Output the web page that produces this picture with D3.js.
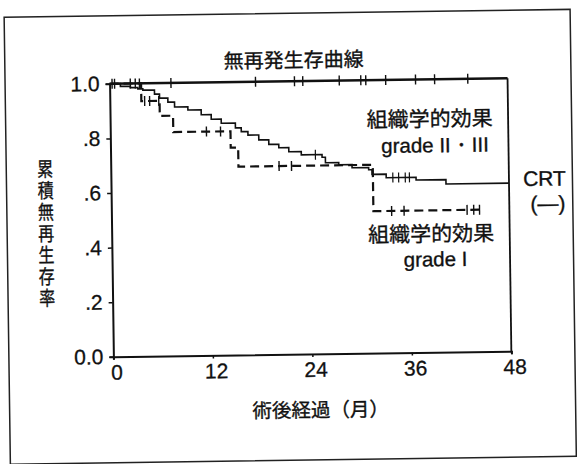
<!DOCTYPE html>
<html>
<head>
<meta charset="utf-8">
<script src="https://cdn.jsdelivr.net/npm/d3@7"></script>
<style>
  html, body { margin: 0; padding: 0; background: #fff; }
  svg { display: block; }
  text { fill: #111; }
</style>
</head>
<body>
<svg id="chart" width="577" height="464"></svg>
<script>
// Axis ticks
const xTicks = [0, 12, 24, 36, 48];
const yTicks = [0, 0.2, 0.4, 0.6, 0.8, 1.0];
const yTickLabels = ["0.0", ".2", ".4", ".6", ".8", "1.0"];

// 組織学的効果 grade II・III: no events, censored cases only
const g23End = 48;
const g23Censor = [0.3, 0.6, 2.5, 3.1, 3.6, 7.4, 17.6, 22.3, 23.3, 27.7, 30.3, 30.9, 33.3, 36.9, 39.2, 43.2];

// CRT (—): event times (months) and survival after each event
const crtTimes = [0, 1.3, 2.5, 3.4, 4.0, 5.4, 6.0, 7.0, 7.8, 9.4, 11.0, 12.2, 13.4, 15.1, 15.8, 16.6, 17.9, 19.1, 20.3, 21.5, 23.0, 25.5, 25.9, 27.5, 29.1, 31.1, 31.5, 33.2, 36.8, 40.4];
const crtSurv  = [1, 0.99, 0.985, 0.98, 0.975, 0.96, 0.945, 0.93, 0.912, 0.9, 0.882, 0.865, 0.85, 0.832, 0.818, 0.805, 0.787, 0.77, 0.757, 0.742, 0.73, 0.72, 0.70, 0.692, 0.68, 0.672, 0.655, 0.642, 0.632, 0.616];
const crtEnd = 48;
const crtCensor = [24.7, 34.0, 34.7, 35.5, 36.0];

// 組織学的効果 grade I
const g1Times = [0, 3.8, 6.0, 7.6, 14.5, 15.4, 31.6];
const g1Surv  = [1, 0.935, 0.88, 0.82, 0.76, 0.69, 0.52];
const g1End = 44.4;
const g1Censor = [4.2, 4.8, 5.9, 11.6, 13.3, 20.3, 21.8, 33.8, 35.3, 42.9, 43.7, 44.4];

const svg = d3.select("#chart");
svg.append("rect").attr("width", 577).attr("height", 464).attr("fill", "#fff");

// the whole sheet sits slightly tilted
const g = svg.append("g").attr("transform", "rotate(-0.8 312 220)");

g.append("rect")
  .attr("x", 7).attr("y", 13).attr("width", 566).attr("height", 447)
  .attr("fill", "none").attr("stroke", "#222").attr("stroke-width", 1.5);

const x = d3.scaleLinear().domain([0, 48]).range([111.5, 509.5]);
const y = d3.scaleLinear().domain([0, 1]).range([354, 81]);

const jp = "'Noto Sans CJK JP', 'Noto Sans', sans-serif";
const num = "'Liberation Sans', Arial, sans-serif";

// Left axis
const yAxis = d3.axisLeft(y).tickValues(yTicks)
  .tickFormat((d, i) => yTickLabels[i]).tickSize(4).tickPadding(6);
const ya = g.append("g").attr("transform", `translate(${x(0)},0)`).call(yAxis);
ya.select(".domain").attr("stroke", "#111").attr("stroke-width", 2);
ya.selectAll(".tick line").attr("stroke", "#111").attr("stroke-width", 1.5);
ya.selectAll(".tick text").attr("font-family", num).attr("font-size", 21)
  .attr("fill", "#111").attr("stroke", "#111").attr("stroke-width", 0.3);

// Bottom axis
const xAxis = d3.axisBottom(x).tickValues(xTicks).tickSize(3).tickPadding(5);
const xa = g.append("g").attr("transform", `translate(0,${y(0)})`).call(xAxis);
xa.select(".domain").attr("stroke", "#111").attr("stroke-width", 2);
xa.selectAll(".tick line").attr("stroke", "#111").attr("stroke-width", 1.5);
xa.selectAll(".tick text").attr("font-family", num).attr("font-size", 21)
  .attr("fill", "#111").attr("stroke", "#111").attr("stroke-width", 0.3)
  .attr("dx", 3);

// Right boundary at 48 months
g.append("line")
  .attr("x1", x(48)).attr("x2", x(48)).attr("y1", y(1)).attr("y2", y(0))
  .attr("stroke", "#111").attr("stroke-width", 1.8);

// Step path builder (Kaplan–Meier style)
function stepPoints(times, surv, end) {
  const pts = [];
  times.forEach((t, i) => {
    if (i > 0) pts.push([t, surv[i - 1]]);
    pts.push([t, surv[i]]);
  });
  pts.push([end, surv[surv.length - 1]]);
  return pts;
}
function survAt(times, surv, t) {
  let v = surv[0];
  times.forEach((tt, i) => { if (tt <= t) v = surv[i]; });
  return v;
}
const line = d3.line().x(d => x(d[0])).y(d => y(d[1]));

function censorMarks(marks, times, surv, w) {
  g.append("g").selectAll("line").data(marks).join("line")
    .attr("x1", d => x(d)).attr("x2", d => x(d))
    .attr("y1", d => y(survAt(times, surv, d)) - 5)
    .attr("y2", d => y(survAt(times, surv, d)) + 5)
    .attr("stroke", "#111").attr("stroke-width", w);
}

// grade II・III
g.append("path")
  .attr("d", line([[0, 1], [g23End, 1]]))
  .attr("fill", "none").attr("stroke", "#111").attr("stroke-width", 2.4);
censorMarks(g23Censor, [0], [1], 1.4);

// grade I (dashed)
g.append("path")
  .attr("d", line(stepPoints(g1Times, g1Surv, g1End)))
  .attr("fill", "none").attr("stroke", "#111").attr("stroke-width", 2.2)
  .attr("stroke-dasharray", "9,5");
censorMarks(g1Censor, g1Times, g1Surv, 1.4);

// CRT (—)
g.append("path")
  .attr("d", line(stepPoints(crtTimes, crtSurv, crtEnd)))
  .attr("fill", "none").attr("stroke", "#111").attr("stroke-width", 1.6);
censorMarks(crtCensor, crtTimes, crtSurv, 1.2);

// Titles and labels
const txtStroke = sel => sel.attr("stroke", "#111").attr("stroke-width", 0.35);

g.append("text").attr("x", 296).attr("y", 67).attr("text-anchor", "middle")
  .attr("font-family", jp).attr("font-size", 20).text("無再発生存曲線").call(txtStroke);

// vertical axis title, characters stacked top to bottom and slightly narrowed
g.append("text")
  .attr("transform", "translate(46,155) scale(0.8,1)")
  .attr("x", 0).attr("y", 0)
  .style("writing-mode", "vertical-rl")
  .attr("letter-spacing", 1.5)
  .attr("font-family", jp).attr("font-size", 20)
  .text("累積無再生存率").call(txtStroke);

g.append("text").attr("x", 318).attr("y", 417).attr("text-anchor", "middle")
  .attr("font-family", jp).attr("font-size", 19.5).text("術後経過（月）").call(txtStroke);

const notes = [
  { t: "組織学的効果", x: 431, y: 128, f: jp, s: 21 },
  { t: "grade II・III", x: 436, y: 154, f: num, s: 20.5 },
  { t: "CRT", x: 545, y: 189, f: num, s: 21 },
  { t: "(—)", x: 548, y: 214, f: num, s: 21 },
  { t: "組織学的効果", x: 431, y: 243, f: jp, s: 21 },
  { t: "grade I", x: 435, y: 268, f: num, s: 20.5 }
];
g.append("g").selectAll("text").data(notes).join("text")
  .attr("x", d => d.x).attr("y", d => d.y).attr("text-anchor", "middle")
  .attr("font-family", d => d.f).attr("font-size", d => d.s).text(d => d.t)
  .call(txtStroke);
</script>
</body>
</html>
